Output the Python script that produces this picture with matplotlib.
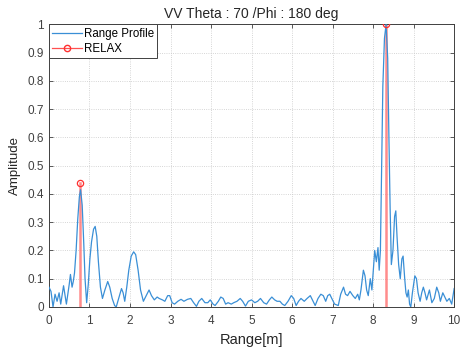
import numpy as np
import matplotlib.pyplot as plt

plt.rcParams['font.family'] = ['Liberation Sans', 'DejaVu Sans']

# range profile
rango = [0.0, 0.05, 0.1, 0.15, 0.2, 0.25, 0.29, 0.36, 0.43, 0.47, 0.5, 0.53, 0.57, 0.6, 0.63, 0.67,
         0.71, 0.75, 0.78, 0.82, 0.86, 0.89, 0.93, 0.97, 1.01, 1.05, 1.1, 1.14, 1.18, 1.22, 1.27,
         1.32, 1.38, 1.45, 1.5, 1.56, 1.62, 1.66, 1.72, 1.79, 1.83, 1.87, 1.92, 1.97, 2.03, 2.09,
         2.14, 2.2, 2.26, 2.33, 2.4, 2.47, 2.53, 2.6, 2.67, 2.72, 2.8, 2.86, 2.93, 2.98, 3.04, 3.1,
         3.18, 3.26, 3.33, 3.42, 3.5, 3.57, 3.64, 3.7, 3.77, 3.85, 3.92, 3.98, 4.05, 4.1, 4.18,
         4.24, 4.3, 4.36, 4.42, 4.5, 4.56, 4.64, 4.72, 4.78, 4.85, 4.92, 5.0, 5.08, 5.15, 5.22,
         5.3, 5.37, 5.44, 5.5, 5.57, 5.63, 5.7, 5.76, 5.82, 5.9, 5.98, 6.04, 6.1, 6.16, 6.22, 6.3,
         6.37, 6.45, 6.52, 6.57, 6.64, 6.71, 6.77, 6.83, 6.88, 6.93, 6.98, 7.05, 7.14, 7.2, 7.27,
         7.32, 7.37, 7.43, 7.5, 7.56, 7.62, 7.66, 7.7, 7.76, 7.8, 7.84, 7.88, 7.93, 7.97, 8.0,
         8.04, 8.08, 8.12, 8.15, 8.18, 8.21, 8.24, 8.28, 8.32, 8.36, 8.39, 8.42, 8.45, 8.49, 8.53,
         8.56, 8.59, 8.63, 8.67, 8.71, 8.74, 8.78, 8.81, 8.84, 8.87, 8.9, 8.93, 8.97, 9.03, 9.07,
         9.11, 9.16, 9.2, 9.24, 9.28, 9.32, 9.39, 9.45, 9.51, 9.57, 9.62, 9.66, 9.72, 9.77, 9.82,
         9.88, 9.94, 10.0]
amplitud = [0.07, 0.055, 0.0, 0.045, 0.02, 0.05, 0.01, 0.075, 0.01, 0.05, 0.08, 0.115, 0.07, 0.09,
            0.12, 0.2, 0.31, 0.39, 0.415, 0.36, 0.22, 0.1, 0.015, 0.08, 0.17, 0.23, 0.275, 0.285,
            0.25, 0.16, 0.07, 0.03, 0.06, 0.09, 0.07, 0.03, 0.005, 0.0, 0.03, 0.065, 0.05, 0.02,
            0.07, 0.13, 0.18, 0.195, 0.185, 0.13, 0.06, 0.02, 0.04, 0.06, 0.04, 0.025, 0.035, 0.03,
            0.025, 0.02, 0.04, 0.04, 0.015, 0.01, 0.02, 0.027, 0.02, 0.027, 0.03, 0.015, 0.002,
            0.02, 0.03, 0.015, 0.015, 0.025, 0.01, 0.005, 0.02, 0.035, 0.03, 0.01, 0.015, 0.01,
            0.015, 0.02, 0.03, 0.02, 0.003, 0.02, 0.025, 0.015, 0.02, 0.03, 0.015, 0.01, 0.025,
            0.035, 0.025, 0.02, 0.02, 0.01, 0.005, 0.02, 0.04, 0.03, 0.005, 0.02, 0.03, 0.02, 0.03,
            0.04, 0.02, 0.005, 0.03, 0.045, 0.04, 0.02, 0.04, 0.045, 0.03, 0.01, 0.005, 0.045, 0.07,
            0.045, 0.04, 0.055, 0.04, 0.03, 0.045, 0.025, 0.06, 0.13, 0.11, 0.06, 0.04, 0.1, 0.06,
            0.12, 0.2, 0.16, 0.21, 0.13, 0.2, 0.5, 0.78, 0.95, 1.0, 0.88, 0.6, 0.35, 0.15, 0.2,
            0.32, 0.34, 0.25, 0.15, 0.1, 0.17, 0.18, 0.1, 0.05, 0.035, 0.06, 0.01, 0.0, 0.05, 0.11,
            0.1, 0.05, 0.02, 0.05, 0.07, 0.05, 0.025, 0.06, 0.015, 0.03, 0.07, 0.05, 0.02, 0.05,
            0.035, 0.02, 0.03, 0.01, 0.065]

# RELAX estimates
relax_x = [0.77, 8.32]
relax_y = [0.44, 1.0]

xticks = [0, 1, 2, 3, 4, 5, 6, 7, 8, 9, 10]
yticks = [0, 0.1, 0.2, 0.3, 0.4, 0.5, 0.6, 0.7, 0.8, 0.9, 1]
yticklabels = ['0', '0.1', '0.2', '0.3', '0.4', '0.5', '0.6', '0.7', '0.8', '0.9', '1']

gris = '#404040'

fig = plt.figure(figsize=(4.62, 3.48), dpi=100)
ax = fig.add_axes([0.106, 0.118, 0.877, 0.812])

ax.plot(rango, amplitud, color='#3a8fd6', lw=0.9, label='Range Profile', zorder=3)
for xr, yr in zip(relax_x, relax_y):
    ax.plot([xr, xr], [0, yr], color='#ff7070', lw=1.8, alpha=0.8, zorder=2)
ax.plot(relax_x, relax_y, 'o', mfc='none', mec='#ff3030', ms=4.5, mew=0.9, zorder=4)
# entrada de leyenda
ax.plot([], [], color='#ff5050', lw=0.9, marker='o', mfc='none', mec='#ff3030', ms=4.5,
        label='RELAX')

ax.set_xlim(0, 10)
ax.set_ylim(0, 1)
ax.set_xticks(xticks)
ax.set_yticks(yticks)
ax.set_yticklabels(yticklabels)
ax.grid(True, color='#c8c8c8', ls=':', lw=0.6)
ax.tick_params(direction='in', top=True, right=True, length=3, width=0.6,
               labelsize=8.5, colors=gris)
ax.tick_params(axis='x', pad=6)
ax.tick_params(axis='y', pad=3.5)
for s in ax.spines.values():
    s.set_color(gris)
    s.set_linewidth(0.7)

ax.set_title('VV Theta : 70 /Phi : 180 deg', fontsize=10, color='#262626', pad=4.5)
ax.set_xlabel('Range[m]', fontsize=10.5, color='#262626', labelpad=4)
ax.set_ylabel('Amplitude', fontsize=9.5, color='#262626', labelpad=5)

leg = ax.legend(loc='upper left', bbox_to_anchor=(0, 1), borderaxespad=0, fontsize=8.3,
                fancybox=False, framealpha=1, handlelength=2.6, handletextpad=0.1,
                borderpad=0.3, labelspacing=0.25)
leg.get_frame().set_edgecolor(gris)
leg.get_frame().set_linewidth(0.7)

plt.savefig('out.png', dpi=100)
